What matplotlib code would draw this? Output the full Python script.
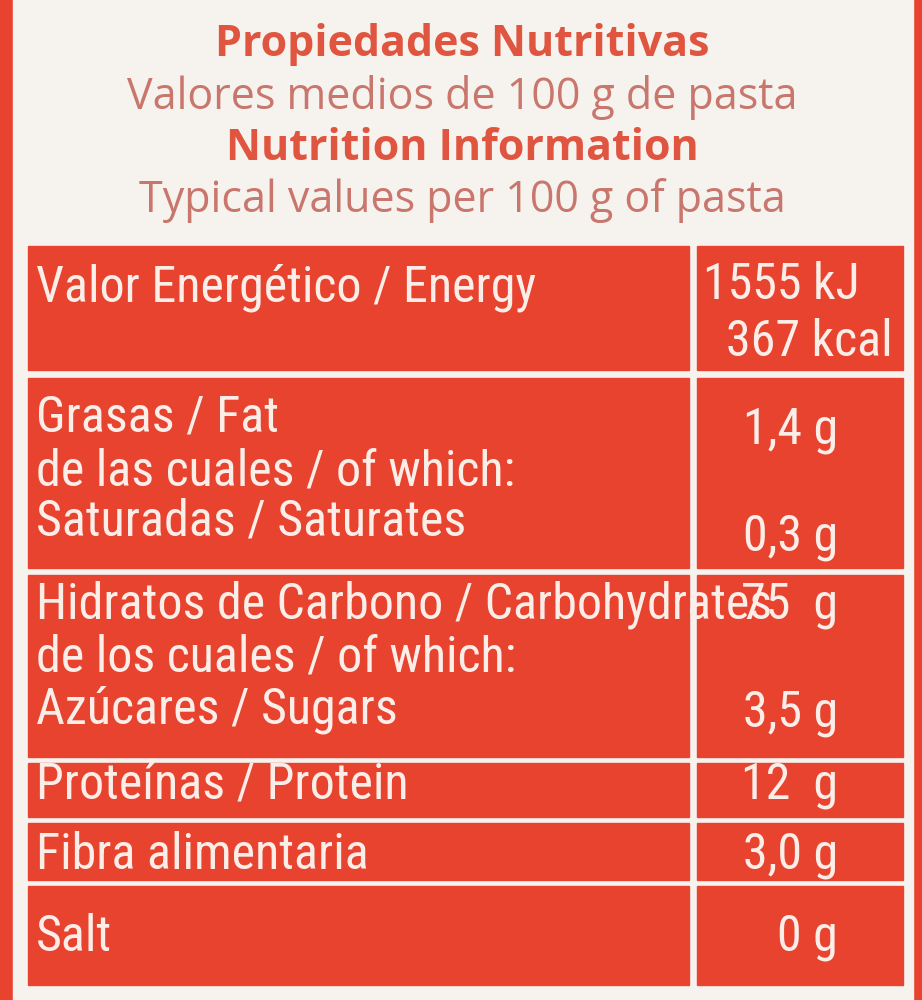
import matplotlib
matplotlib.use('Agg')
import matplotlib.pyplot as plt
from matplotlib.patches import Rectangle
from matplotlib import font_manager

RED = '#e8432f'
PANEL = '#f6f3ef'
TITLE_RED = '#e0553f'
SUB_RED = '#c9766c'
TXT = '#fbeee9'

# pick a condensed family if one is installed, else a narrower sans at a smaller size
names = {f.name for f in font_manager.fontManager.ttflist}
FONT, SIZE = ['Roboto', 'DejaVu Sans'], 31
for cand in ['Liberation Sans Narrow', 'DejaVu Sans Condensed', 'Roboto Condensed']:
    if cand in names:
        FONT, SIZE = [cand, 'DejaVu Sans'], 36
        break

header = ['Propiedades Nutritivas', 'Valores medios de 100 g de pasta',
          'Nutrition Information', 'Typical values per 100 g of pasta']
header_bold = [True, False, True, False]

# rows: (top, bottom) in pixels, label lines, value lines
row_bounds = [(246, 370), (378, 568), (575, 757), (763, 817), (823, 880), (886, 985)]
row_labels = [
    ['Valor Energético / Energy'],
    ['Grasas / Fat', 'de las cuales / of which:', 'Saturadas / Saturates'],
    ['Hidratos de Carbono / Carbohydrates', 'de los cuales / of which:', 'Azúcares / Sugars'],
    ['Proteínas / Protein'],
    ['Fibra alimentaria'],
    ['Salt'],
]
label_y = [[288], [418, 472, 522], [605, 657, 710], [785], [855], [937]]
row_values = [['1555 kJ', '367 kcal'], ['1,4 g', '0,3 g'], ['75  g', '3,5 g'],
              ['12  g'], ['3,0 g'], ['0 g']]
value_y = [[285, 342], [430, 537], [605, 713], [785], [855], [937]]
value_x = [[860, 893], [838, 838], [838, 838], [838], [838], [838]]

fig = plt.figure(figsize=(9.22, 10), dpi=100)
fig.patch.set_facecolor(RED)
ax = fig.add_axes([0, 0, 1, 1])
ax.set_xlim(0, 922)
ax.set_ylim(1000, 0)
ax.axis('off')

ax.add_patch(Rectangle((13, -5), 900, 1010, color=PANEL, zorder=0))

for i, (txt, b) in enumerate(zip(header, header_bold)):
    ax.text(462, 45 + i * 52, txt, ha='center', va='center', fontsize=31,
            color=TITLE_RED if b else SUB_RED, fontweight='bold' if b else 'normal',
            family=['Open Sans', 'DejaVu Sans'])

for (top, bot), labels, ly, vals, vy, vx in zip(row_bounds, row_labels, label_y,
                                                 row_values, value_y, value_x):
    ax.add_patch(Rectangle((28, top), 661, bot - top, color=RED, zorder=1))
    ax.add_patch(Rectangle((697, top), 206, bot - top, color=RED, zorder=1))
    for t, y in zip(labels, ly):
        ax.text(36, y, t, ha='left', va='center', fontsize=SIZE, color=TXT, family=FONT, zorder=2)
    for t, y, x in zip(vals, vy, vx):
        ax.text(x, y, t, ha='right', va='center', fontsize=SIZE, color=TXT, family=FONT, zorder=2)

fig.savefig('out.png', dpi=100, facecolor=RED)
